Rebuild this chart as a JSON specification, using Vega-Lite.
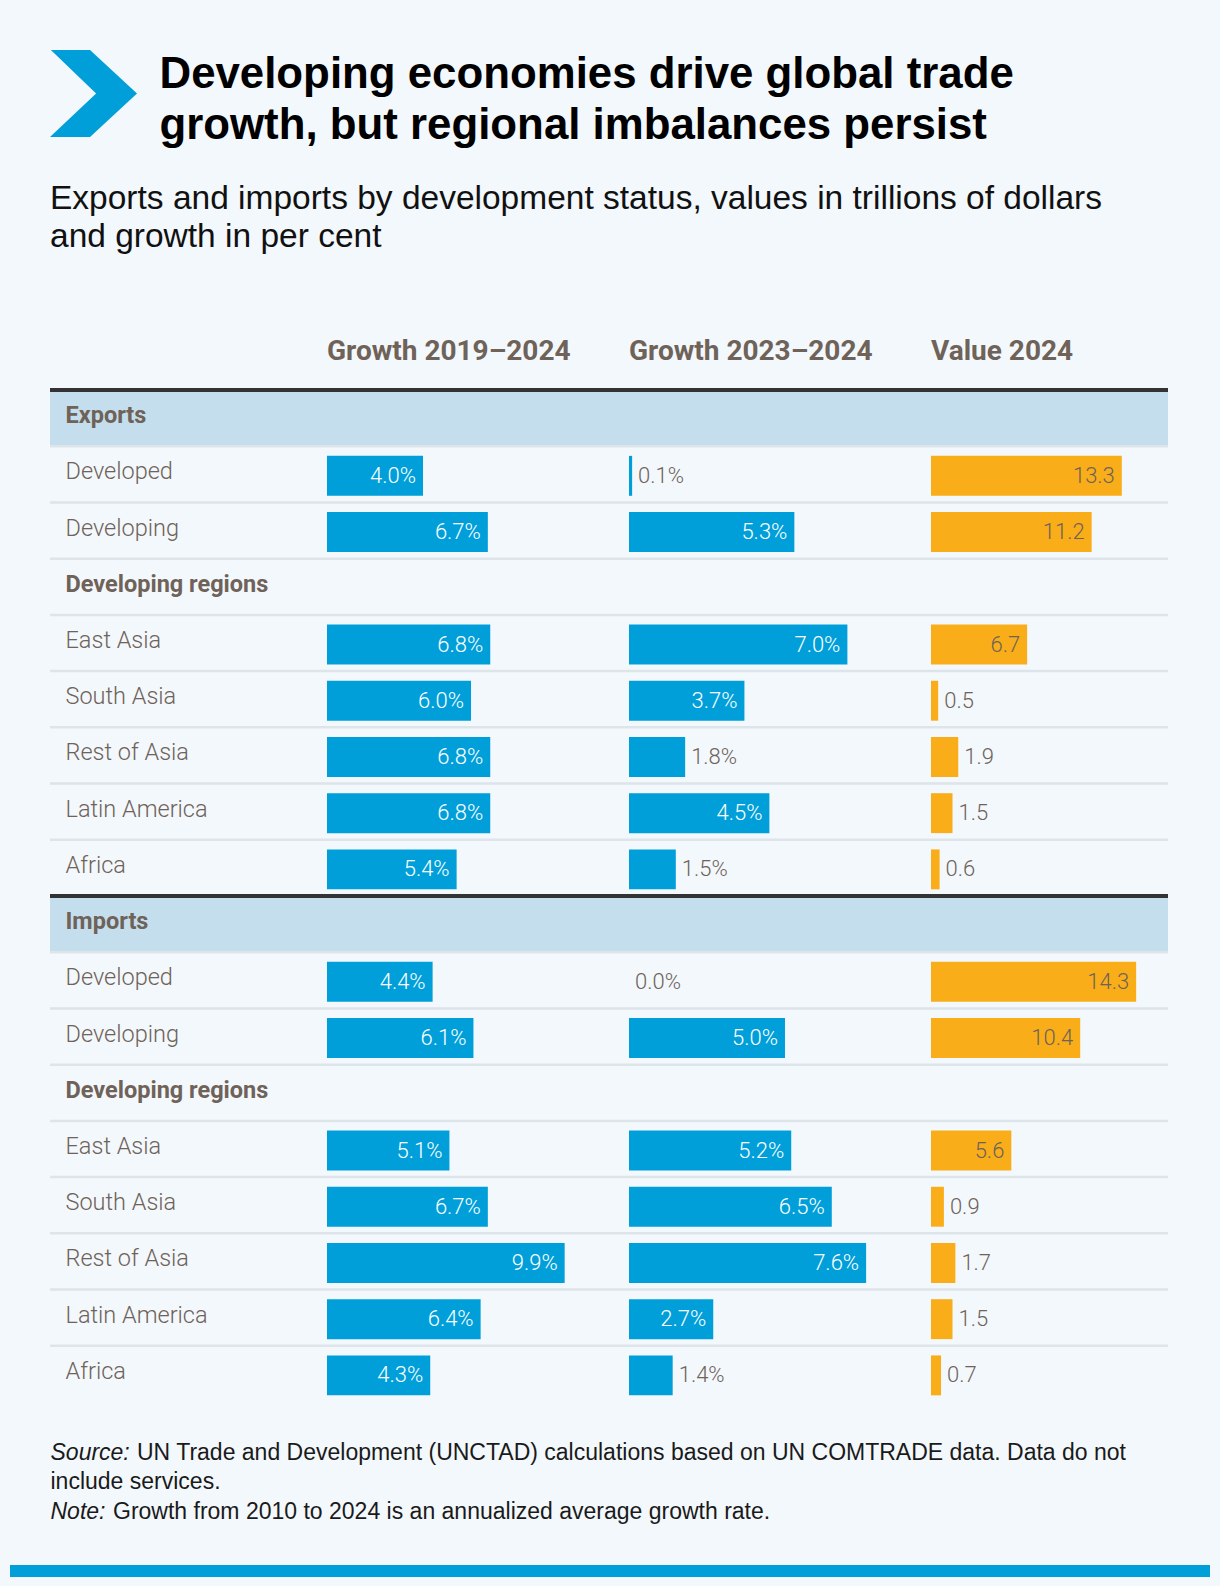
{
  "$schema": "https://vega.github.io/schema/vega-lite/v6.json",
  "background": "#f3f8fc",
  "padding": {"left": 10, "right": 10, "top": 50, "bottom": 14},
  "config": {"view": {"stroke": null}, "font": "Liberation Sans"},
  "datasets": {
    "rows": [
      {"key": "Exports", "label": "Exports", "kind": "section"},
      {"key": "Exports|Developed", "label": "Developed", "kind": "item", "g19": 4.0, "g23": 0.1, "val": 13.3},
      {"key": "Exports|Developing", "label": "Developing", "kind": "item", "g19": 6.7, "g23": 5.3, "val": 11.2},
      {"key": "Exports|Developing regions", "label": "Developing regions", "kind": "group"},
      {"key": "Exports|East Asia", "label": "East Asia", "kind": "item", "g19": 6.8, "g23": 7.0, "val": 6.7},
      {"key": "Exports|South Asia", "label": "South Asia", "kind": "item", "g19": 6.0, "g23": 3.7, "val": 0.5},
      {"key": "Exports|Rest of Asia", "label": "Rest of Asia", "kind": "item", "g19": 6.8, "g23": 1.8, "val": 1.9},
      {"key": "Exports|Latin America", "label": "Latin America", "kind": "item", "g19": 6.8, "g23": 4.5, "val": 1.5},
      {"key": "Exports|Africa", "label": "Africa", "kind": "item", "g19": 5.4, "g23": 1.5, "val": 0.6},
      {"key": "Imports", "label": "Imports", "kind": "section"},
      {"key": "Imports|Developed", "label": "Developed", "kind": "item", "g19": 4.4, "g23": 0.0, "val": 14.3},
      {"key": "Imports|Developing", "label": "Developing", "kind": "item", "g19": 6.1, "g23": 5.0, "val": 10.4},
      {"key": "Imports|Developing regions", "label": "Developing regions", "kind": "group"},
      {"key": "Imports|East Asia", "label": "East Asia", "kind": "item", "g19": 5.1, "g23": 5.2, "val": 5.6},
      {"key": "Imports|South Asia", "label": "South Asia", "kind": "item", "g19": 6.7, "g23": 6.5, "val": 0.9},
      {"key": "Imports|Rest of Asia", "label": "Rest of Asia", "kind": "item", "g19": 9.9, "g23": 7.6, "val": 1.7},
      {"key": "Imports|Latin America", "label": "Latin America", "kind": "item", "g19": 6.4, "g23": 2.7, "val": 1.5},
      {"key": "Imports|Africa", "label": "Africa", "kind": "item", "g19": 4.3, "g23": 1.4, "val": 0.7}
    ]
  },
  "spacing": 41,
  "center": true,
  "vconcat": [
    {
      "spacing": 33,
      "vconcat": [
        {
          "spacing": 22,
          "hconcat": [
            {
              "width": 87,
              "height": 87,
              "data": {"values": [{"icon": "chevron"}]},
              "mark": {"type": "point", "shape": "M-0.98,-1L-0.08,-1L1,0L-0.08,1L-1,1L0.06,0Z", "size": 7569, "filled": true, "fill": "#009fda", "opacity": 1, "strokeWidth": 0},
              "encoding": {}
            },
            {
              "width": 1,
              "height": 50,
              "data": {"values": [{"part": "headline"}]},
              "mark": {
                "type": "text",
                "text": ["Developing economies drive global trade", "growth, but regional imbalances persist"],
                "align": "left", "baseline": "middle", "lineHeight": 51,
                "font": "Liberation Sans", "fontSize": 43.8, "fontWeight": "bold", "color": "#000000"
              },
              "encoding": {}
            }
          ]
        },
        {
          "spacing": 39,
          "vconcat": [
            {
              "title": {
                "text": ["Exports and imports by development status, values in trillions of dollars", "and growth in per cent"],
                "anchor": "start", "frame": "group", "baseline": "top", "offset": 84,
                "font": "Liberation Sans", "fontSize": 33.5, "fontWeight": "normal", "color": "#111111", "lineHeight": 38
              },
              "spacing": 0,
              "bounds": "flush",
              "hconcat": [
                {
                  "width": 277,
                  "height": 1012,
                  "data": {"name": "rows"},
                  "layer": [
                    {
                      "transform": [{"filter": "datum.kind == 'section'"}],
                      "mark": {"type": "rect", "color": "#c5deed"},
                      "encoding": {"y": {"field": "key", "type": "nominal", "scale": {"domain": ["Exports","Exports|Developed","Exports|Developing","Exports|Developing regions","Exports|East Asia","Exports|South Asia","Exports|Rest of Asia","Exports|Latin America","Exports|Africa","Imports","Imports|Developed","Imports|Developing","Imports|Developing regions","Imports|East Asia","Imports|South Asia","Imports|Rest of Asia","Imports|Latin America","Imports|Africa"], "paddingInner": 0, "paddingOuter": 0}, "axis": null}}
                    },
                    {
                      "transform": [{"filter": "datum.kind != 'section'"}],
                      "mark": {"type": "rule", "color": "#dde4ea", "strokeWidth": 2.5},
                      "encoding": {"y": {"field": "key", "type": "nominal", "bandPosition": 0, "scale": {"domain": ["Exports","Exports|Developed","Exports|Developing","Exports|Developing regions","Exports|East Asia","Exports|South Asia","Exports|Rest of Asia","Exports|Latin America","Exports|Africa","Imports","Imports|Developed","Imports|Developing","Imports|Developing regions","Imports|East Asia","Imports|South Asia","Imports|Rest of Asia","Imports|Latin America","Imports|Africa"], "paddingInner": 0, "paddingOuter": 0}, "axis": null}}
                    },
                    {
                      "transform": [{"filter": "datum.kind == 'section'"}],
                      "mark": {"type": "rule", "color": "#333333", "strokeWidth": 4},
                      "encoding": {"y": {"field": "key", "type": "nominal", "bandPosition": 0, "scale": {"domain": ["Exports","Exports|Developed","Exports|Developing","Exports|Developing regions","Exports|East Asia","Exports|South Asia","Exports|Rest of Asia","Exports|Latin America","Exports|Africa","Imports","Imports|Developed","Imports|Developing","Imports|Developing regions","Imports|East Asia","Imports|South Asia","Imports|Rest of Asia","Imports|Latin America","Imports|Africa"], "paddingInner": 0, "paddingOuter": 0}, "axis": null}}
                    },
                    {
                      "transform": [{"filter": "datum.kind == 'item'"}],
                      "mark": {"type": "text", "align": "left", "baseline": "middle", "dx": -123, "dy": -2, "font": "Roboto", "fontSize": 23.5, "fontWeight": 300, "color": "#6e6259"},
                      "encoding": {
                        "y": {"field": "key", "type": "nominal", "scale": {"domain": ["Exports","Exports|Developed","Exports|Developing","Exports|Developing regions","Exports|East Asia","Exports|South Asia","Exports|Rest of Asia","Exports|Latin America","Exports|Africa","Imports","Imports|Developed","Imports|Developing","Imports|Developing regions","Imports|East Asia","Imports|South Asia","Imports|Rest of Asia","Imports|Latin America","Imports|Africa"], "paddingInner": 0, "paddingOuter": 0}, "axis": null},
                        "text": {"field": "label", "type": "nominal"}
                      }
                    },
                    {
                      "transform": [{"filter": "datum.kind != 'item'"}],
                      "mark": {"type": "text", "align": "left", "baseline": "middle", "dx": -123, "dy": -2, "font": "Roboto", "fontSize": 23.5, "fontWeight": "bold", "color": "#6e6259"},
                      "encoding": {
                        "y": {"field": "key", "type": "nominal", "scale": {"domain": ["Exports","Exports|Developed","Exports|Developing","Exports|Developing regions","Exports|East Asia","Exports|South Asia","Exports|Rest of Asia","Exports|Latin America","Exports|Africa","Imports","Imports|Developed","Imports|Developing","Imports|Developing regions","Imports|East Asia","Imports|South Asia","Imports|Rest of Asia","Imports|Latin America","Imports|Africa"], "paddingInner": 0, "paddingOuter": 0}, "axis": null},
                        "text": {"field": "label", "type": "nominal"}
                      }
                    }
                  ]
                },
                {
                  "width": 302,
                  "height": 1012,
                  "data": {"name": "rows"},
                  "title": {"text": "Growth 2019–2024", "anchor": "start", "frame": "group", "baseline": "alphabetic", "offset": 0, "font": "Roboto", "fontSize": 28, "fontWeight": "bold", "color": "#6e6259"},
                  "layer": [
                    {
                      "transform": [{"filter": "datum.kind == 'section'"}],
                      "mark": {"type": "rect", "color": "#c5deed"},
                      "encoding": {"y": {"field": "key", "type": "nominal", "scale": {"domain": ["Exports","Exports|Developed","Exports|Developing","Exports|Developing regions","Exports|East Asia","Exports|South Asia","Exports|Rest of Asia","Exports|Latin America","Exports|Africa","Imports","Imports|Developed","Imports|Developing","Imports|Developing regions","Imports|East Asia","Imports|South Asia","Imports|Rest of Asia","Imports|Latin America","Imports|Africa"], "paddingInner": 0, "paddingOuter": 0}, "axis": null}}
                    },
                    {
                      "transform": [{"filter": "datum.kind != 'section'"}],
                      "mark": {"type": "rule", "color": "#dde4ea", "strokeWidth": 2.5},
                      "encoding": {"y": {"field": "key", "type": "nominal", "bandPosition": 0, "scale": {"domain": ["Exports","Exports|Developed","Exports|Developing","Exports|Developing regions","Exports|East Asia","Exports|South Asia","Exports|Rest of Asia","Exports|Latin America","Exports|Africa","Imports","Imports|Developed","Imports|Developing","Imports|Developing regions","Imports|East Asia","Imports|South Asia","Imports|Rest of Asia","Imports|Latin America","Imports|Africa"], "paddingInner": 0, "paddingOuter": 0}, "axis": null}}
                    },
                    {
                      "transform": [{"filter": "datum.kind == 'section'"}],
                      "mark": {"type": "rule", "color": "#333333", "strokeWidth": 4},
                      "encoding": {"y": {"field": "key", "type": "nominal", "bandPosition": 0, "scale": {"domain": ["Exports","Exports|Developed","Exports|Developing","Exports|Developing regions","Exports|East Asia","Exports|South Asia","Exports|Rest of Asia","Exports|Latin America","Exports|Africa","Imports","Imports|Developed","Imports|Developing","Imports|Developing regions","Imports|East Asia","Imports|South Asia","Imports|Rest of Asia","Imports|Latin America","Imports|Africa"], "paddingInner": 0, "paddingOuter": 0}, "axis": null}}
                    },
                    {
                      "transform": [{"filter": "isValid(datum.g19)"}],
                      "mark": {"type": "bar", "color": "#009fda", "height": {"band": 0.71}, "yOffset": 1.5},
                      "encoding": {
                        "y": {"field": "key", "type": "nominal", "scale": {"domain": ["Exports","Exports|Developed","Exports|Developing","Exports|Developing regions","Exports|East Asia","Exports|South Asia","Exports|Rest of Asia","Exports|Latin America","Exports|Africa","Imports","Imports|Developed","Imports|Developing","Imports|Developing regions","Imports|East Asia","Imports|South Asia","Imports|Rest of Asia","Imports|Latin America","Imports|Africa"], "paddingInner": 0, "paddingOuter": 0}, "axis": null},
                        "x": {"field": "g19", "type": "quantitative", "scale": {"domain": [0, 12.58], "nice": false, "zero": true}, "axis": null}
                      }
                    },
                    {
                      "transform": [{"filter": "isValid(datum.g19) && datum.g19 >= 2.5"}],
                      "mark": {"type": "text", "align": "right", "baseline": "middle", "dx": -7, "dy": 1.5, "font": "Roboto", "fontSize": 22, "fontWeight": 300, "color": "#ffffff", "text": {"expr": "format(datum.g19, '.1f') + '%'"}},
                      "encoding": {
                        "y": {"field": "key", "type": "nominal", "scale": {"domain": ["Exports","Exports|Developed","Exports|Developing","Exports|Developing regions","Exports|East Asia","Exports|South Asia","Exports|Rest of Asia","Exports|Latin America","Exports|Africa","Imports","Imports|Developed","Imports|Developing","Imports|Developing regions","Imports|East Asia","Imports|South Asia","Imports|Rest of Asia","Imports|Latin America","Imports|Africa"], "paddingInner": 0, "paddingOuter": 0}, "axis": null},
                        "x": {"field": "g19", "type": "quantitative", "scale": {"domain": [0, 12.58], "nice": false, "zero": true}, "axis": null}
                      }
                    }
                  ]
                },
                {
                  "width": 302,
                  "height": 1012,
                  "data": {"name": "rows"},
                  "title": {"text": "Growth 2023–2024", "anchor": "start", "frame": "group", "baseline": "alphabetic", "offset": 0, "font": "Roboto", "fontSize": 28, "fontWeight": "bold", "color": "#6e6259"},
                  "layer": [
                    {
                      "transform": [{"filter": "datum.kind == 'section'"}],
                      "mark": {"type": "rect", "color": "#c5deed"},
                      "encoding": {"y": {"field": "key", "type": "nominal", "scale": {"domain": ["Exports","Exports|Developed","Exports|Developing","Exports|Developing regions","Exports|East Asia","Exports|South Asia","Exports|Rest of Asia","Exports|Latin America","Exports|Africa","Imports","Imports|Developed","Imports|Developing","Imports|Developing regions","Imports|East Asia","Imports|South Asia","Imports|Rest of Asia","Imports|Latin America","Imports|Africa"], "paddingInner": 0, "paddingOuter": 0}, "axis": null}}
                    },
                    {
                      "transform": [{"filter": "datum.kind != 'section'"}],
                      "mark": {"type": "rule", "color": "#dde4ea", "strokeWidth": 2.5},
                      "encoding": {"y": {"field": "key", "type": "nominal", "bandPosition": 0, "scale": {"domain": ["Exports","Exports|Developed","Exports|Developing","Exports|Developing regions","Exports|East Asia","Exports|South Asia","Exports|Rest of Asia","Exports|Latin America","Exports|Africa","Imports","Imports|Developed","Imports|Developing","Imports|Developing regions","Imports|East Asia","Imports|South Asia","Imports|Rest of Asia","Imports|Latin America","Imports|Africa"], "paddingInner": 0, "paddingOuter": 0}, "axis": null}}
                    },
                    {
                      "transform": [{"filter": "datum.kind == 'section'"}],
                      "mark": {"type": "rule", "color": "#333333", "strokeWidth": 4},
                      "encoding": {"y": {"field": "key", "type": "nominal", "bandPosition": 0, "scale": {"domain": ["Exports","Exports|Developed","Exports|Developing","Exports|Developing regions","Exports|East Asia","Exports|South Asia","Exports|Rest of Asia","Exports|Latin America","Exports|Africa","Imports","Imports|Developed","Imports|Developing","Imports|Developing regions","Imports|East Asia","Imports|South Asia","Imports|Rest of Asia","Imports|Latin America","Imports|Africa"], "paddingInner": 0, "paddingOuter": 0}, "axis": null}}
                    },
                    {
                      "transform": [{"filter": "isValid(datum.g23)"}],
                      "mark": {"type": "bar", "color": "#009fda", "height": {"band": 0.71}, "yOffset": 1.5},
                      "encoding": {
                        "y": {"field": "key", "type": "nominal", "scale": {"domain": ["Exports","Exports|Developed","Exports|Developing","Exports|Developing regions","Exports|East Asia","Exports|South Asia","Exports|Rest of Asia","Exports|Latin America","Exports|Africa","Imports","Imports|Developed","Imports|Developing","Imports|Developing regions","Imports|East Asia","Imports|South Asia","Imports|Rest of Asia","Imports|Latin America","Imports|Africa"], "paddingInner": 0, "paddingOuter": 0}, "axis": null},
                        "x": {"field": "g23", "type": "quantitative", "scale": {"domain": [0, 9.68], "nice": false, "zero": true}, "axis": null}
                      }
                    },
                    {
                      "transform": [{"filter": "isValid(datum.g23) && datum.g23 >= 2.5"}],
                      "mark": {"type": "text", "align": "right", "baseline": "middle", "dx": -7, "dy": 1.5, "font": "Roboto", "fontSize": 22, "fontWeight": 300, "color": "#ffffff", "text": {"expr": "format(datum.g23, '.1f') + '%'"}},
                      "encoding": {
                        "y": {"field": "key", "type": "nominal", "scale": {"domain": ["Exports","Exports|Developed","Exports|Developing","Exports|Developing regions","Exports|East Asia","Exports|South Asia","Exports|Rest of Asia","Exports|Latin America","Exports|Africa","Imports","Imports|Developed","Imports|Developing","Imports|Developing regions","Imports|East Asia","Imports|South Asia","Imports|Rest of Asia","Imports|Latin America","Imports|Africa"], "paddingInner": 0, "paddingOuter": 0}, "axis": null},
                        "x": {"field": "g23", "type": "quantitative", "scale": {"domain": [0, 9.68], "nice": false, "zero": true}, "axis": null}
                      }
                    },
                    {
                      "transform": [{"filter": "isValid(datum.g23) && datum.g23 < 2.5"}],
                      "mark": {"type": "text", "align": "left", "baseline": "middle", "dx": 6, "dy": 1.5, "font": "Roboto", "fontSize": 22, "fontWeight": 300, "color": "#6e6259", "text": {"expr": "format(datum.g23, '.1f') + '%'"}},
                      "encoding": {
                        "y": {"field": "key", "type": "nominal", "scale": {"domain": ["Exports","Exports|Developed","Exports|Developing","Exports|Developing regions","Exports|East Asia","Exports|South Asia","Exports|Rest of Asia","Exports|Latin America","Exports|Africa","Imports","Imports|Developed","Imports|Developing","Imports|Developing regions","Imports|East Asia","Imports|South Asia","Imports|Rest of Asia","Imports|Latin America","Imports|Africa"], "paddingInner": 0, "paddingOuter": 0}, "axis": null},
                        "x": {"field": "g23", "type": "quantitative", "scale": {"domain": [0, 9.68], "nice": false, "zero": true}, "axis": null}
                      }
                    }
                  ]
                },
                {
                  "width": 237,
                  "height": 1012,
                  "data": {"name": "rows"},
                  "title": {"text": "Value 2024", "anchor": "start", "frame": "group", "baseline": "alphabetic", "offset": 0, "font": "Roboto", "fontSize": 28, "fontWeight": "bold", "color": "#6e6259"},
                  "layer": [
                    {
                      "transform": [{"filter": "datum.kind == 'section'"}],
                      "mark": {"type": "rect", "color": "#c5deed"},
                      "encoding": {"y": {"field": "key", "type": "nominal", "scale": {"domain": ["Exports","Exports|Developed","Exports|Developing","Exports|Developing regions","Exports|East Asia","Exports|South Asia","Exports|Rest of Asia","Exports|Latin America","Exports|Africa","Imports","Imports|Developed","Imports|Developing","Imports|Developing regions","Imports|East Asia","Imports|South Asia","Imports|Rest of Asia","Imports|Latin America","Imports|Africa"], "paddingInner": 0, "paddingOuter": 0}, "axis": null}}
                    },
                    {
                      "transform": [{"filter": "datum.kind != 'section'"}],
                      "mark": {"type": "rule", "color": "#dde4ea", "strokeWidth": 2.5},
                      "encoding": {"y": {"field": "key", "type": "nominal", "bandPosition": 0, "scale": {"domain": ["Exports","Exports|Developed","Exports|Developing","Exports|Developing regions","Exports|East Asia","Exports|South Asia","Exports|Rest of Asia","Exports|Latin America","Exports|Africa","Imports","Imports|Developed","Imports|Developing","Imports|Developing regions","Imports|East Asia","Imports|South Asia","Imports|Rest of Asia","Imports|Latin America","Imports|Africa"], "paddingInner": 0, "paddingOuter": 0}, "axis": null}}
                    },
                    {
                      "transform": [{"filter": "datum.kind == 'section'"}],
                      "mark": {"type": "rule", "color": "#333333", "strokeWidth": 4},
                      "encoding": {"y": {"field": "key", "type": "nominal", "bandPosition": 0, "scale": {"domain": ["Exports","Exports|Developed","Exports|Developing","Exports|Developing regions","Exports|East Asia","Exports|South Asia","Exports|Rest of Asia","Exports|Latin America","Exports|Africa","Imports","Imports|Developed","Imports|Developing","Imports|Developing regions","Imports|East Asia","Imports|South Asia","Imports|Rest of Asia","Imports|Latin America","Imports|Africa"], "paddingInner": 0, "paddingOuter": 0}, "axis": null}}
                    },
                    {
                      "transform": [{"filter": "isValid(datum.val)"}],
                      "mark": {"type": "bar", "color": "#f9ae19", "height": {"band": 0.71}, "yOffset": 1.5},
                      "encoding": {
                        "y": {"field": "key", "type": "nominal", "scale": {"domain": ["Exports","Exports|Developed","Exports|Developing","Exports|Developing regions","Exports|East Asia","Exports|South Asia","Exports|Rest of Asia","Exports|Latin America","Exports|Africa","Imports","Imports|Developed","Imports|Developing","Imports|Developing regions","Imports|East Asia","Imports|South Asia","Imports|Rest of Asia","Imports|Latin America","Imports|Africa"], "paddingInner": 0, "paddingOuter": 0}, "axis": null},
                        "x": {"field": "val", "type": "quantitative", "scale": {"domain": [0, 16.52], "nice": false, "zero": true}, "axis": null}
                      }
                    },
                    {
                      "transform": [{"filter": "isValid(datum.val) && datum.val >= 3"}],
                      "mark": {"type": "text", "align": "right", "baseline": "middle", "dx": -7, "dy": 1.5, "font": "Roboto", "fontSize": 22, "fontWeight": 300, "color": "#6e6259"},
                      "encoding": {
                        "y": {"field": "key", "type": "nominal", "scale": {"domain": ["Exports","Exports|Developed","Exports|Developing","Exports|Developing regions","Exports|East Asia","Exports|South Asia","Exports|Rest of Asia","Exports|Latin America","Exports|Africa","Imports","Imports|Developed","Imports|Developing","Imports|Developing regions","Imports|East Asia","Imports|South Asia","Imports|Rest of Asia","Imports|Latin America","Imports|Africa"], "paddingInner": 0, "paddingOuter": 0}, "axis": null},
                        "x": {"field": "val", "type": "quantitative", "scale": {"domain": [0, 16.52], "nice": false, "zero": true}, "axis": null},
                        "text": {"field": "val", "type": "quantitative", "format": ".1f"}
                      }
                    },
                    {
                      "transform": [{"filter": "isValid(datum.val) && datum.val < 3"}],
                      "mark": {"type": "text", "align": "left", "baseline": "middle", "dx": 6, "dy": 1.5, "font": "Roboto", "fontSize": 22, "fontWeight": 300, "color": "#6e6259"},
                      "encoding": {
                        "y": {"field": "key", "type": "nominal", "scale": {"domain": ["Exports","Exports|Developed","Exports|Developing","Exports|Developing regions","Exports|East Asia","Exports|South Asia","Exports|Rest of Asia","Exports|Latin America","Exports|Africa","Imports","Imports|Developed","Imports|Developing","Imports|Developing regions","Imports|East Asia","Imports|South Asia","Imports|Rest of Asia","Imports|Latin America","Imports|Africa"], "paddingInner": 0, "paddingOuter": 0}, "axis": null},
                        "x": {"field": "val", "type": "quantitative", "scale": {"domain": [0, 16.52], "nice": false, "zero": true}, "axis": null},
                        "text": {"field": "val", "type": "quantitative", "format": ".1f"}
                      }
                    }
                  ]
                }
              ]
            },
            {
              "spacing": 5.5,
              "vconcat": [
                {
                  "spacing": 6.5,
                  "hconcat": [
                    {
                      "width": 1, "height": 23,
                      "data": {"values": [{"part": "source-lead"}]},
                      "mark": {"type": "text", "text": "Source:", "align": "left", "baseline": "middle", "font": "Liberation Sans", "fontSize": 23, "fontStyle": "italic", "color": "#1a1a1a"},
                      "encoding": {}
                    },
                    {
                      "width": 1, "height": 23,
                      "data": {"values": [{"part": "source-body"}]},
                      "mark": {"type": "text", "text": "UN Trade and Development (UNCTAD) calculations based on UN COMTRADE data. Data do not", "align": "left", "baseline": "middle", "font": "Liberation Sans", "fontSize": 23, "color": "#1a1a1a"},
                      "encoding": {}
                    }
                  ]
                },
                {
                  "width": 1, "height": 23,
                  "data": {"values": [{"part": "source-cont"}]},
                  "mark": {"type": "text", "text": "include services.", "align": "left", "baseline": "middle", "font": "Liberation Sans", "fontSize": 23, "color": "#1a1a1a"},
                  "encoding": {}
                },
                {
                  "spacing": 6.5,
                  "hconcat": [
                    {
                      "width": 1, "height": 23,
                      "data": {"values": [{"part": "note-lead"}]},
                      "mark": {"type": "text", "text": "Note:", "align": "left", "baseline": "middle", "font": "Liberation Sans", "fontSize": 23, "fontStyle": "italic", "color": "#1a1a1a"},
                      "encoding": {}
                    },
                    {
                      "width": 1, "height": 23,
                      "data": {"values": [{"part": "note-body"}]},
                      "mark": {"type": "text", "text": "Growth from 2010 to 2024 is an annualized average growth rate.", "align": "left", "baseline": "middle", "font": "Liberation Sans", "fontSize": 23, "color": "#1a1a1a"},
                      "encoding": {}
                    }
                  ]
                }
              ]
            }
          ]
        }
      ]
    },
    {
      "width": 1200,
      "height": 12,
      "data": {"values": [{"part": "footer-band"}]},
      "mark": {"type": "rect", "color": "#009fda"},
      "encoding": {}
    }
  ]
}
